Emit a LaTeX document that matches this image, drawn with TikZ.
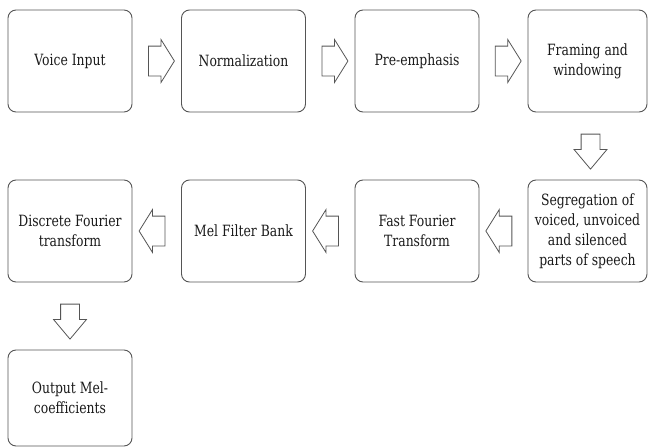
\documentclass[tikz,border=0pt]{standalone}
\usepackage{fontspec}
\setmainfont{DejaVu Serif}[FakeStretch=0.8]
\usetikzlibrary{shapes.arrows,calc}
\definecolor{edge}{HTML}{555555}
\definecolor{ink}{HTML}{1a1a1a}
\begin{document}
\begin{tikzpicture}[x=1pt,y=-1pt,
  box/.style={draw=edge, line width=0.9pt, rounded corners=8pt, fill=white,
    minimum width=124pt, minimum height=102pt, align=center, inner sep=2pt,
    text=ink, font=\fontsize{15.5}{20}\selectfont},
  harrow/.style={single arrow, draw=edge, line width=0.8pt, fill=white,
    minimum height=26pt, single arrow head extend=6.5pt, single arrow tip angle=116,
    inner xsep=0pt, inner ysep=14.5pt},
  varrow/.style={single arrow, draw=edge, line width=0.8pt, fill=white,
    minimum height=35pt, single arrow head extend=7pt, single arrow tip angle=80,
    inner xsep=9pt, inner ysep=0pt, shape border rotate=270}
]
\useasboundingbox (0,0) rectangle (648,447);
% row 1
\node[box] (b1) at (70,61) {Voice Input};
\node[box] (b2) at (243.5,61) {Normalization};
\node[box] (b3) at (417,61) {Pre-emphasis};
\node[box, minimum width=119pt] (b4) at (587.5,61) {Framing and\\windowing};
% row 2
\node[box, minimum width=119pt] (b5) at (587.5,231) {Segregation of\\voiced, unvoiced\\and silenced\\parts of speech};
\node[box] (b6) at (417,231) {Fast Fourier\\Transform};
\node[box] (b7) at (243.5,231) {Mel Filter Bank};
\node[box] (b8) at (70,231) {Discrete Fourier\\transform};
% row 3
\node[box, minimum height=96pt] (b9) at (70,398) {Output Mel-\\coefficients};
% arrows
\node[harrow] (a1) at ($(b1.east)!0.5!(b2.west)$) {};
\node[harrow] (a2) at ($(b2.east)!0.5!(b3.west)$) {};
\node[harrow] (a3) at ($(b3.east)!0.5!(b4.west)$) {};
\node[varrow] (a4) at ($(b4.south)!0.5!(b5.north)+(3,0)$) {};
\node[harrow, shape border rotate=180] (a5) at ($(b5.west)!0.5!(b6.east)$) {};
\node[harrow, shape border rotate=180] (a6) at ($(b6.west)!0.5!(b7.east)$) {};
\node[harrow, shape border rotate=180] (a7) at ($(b7.west)!0.5!(b8.east)$) {};
\node[varrow] (a8) at ($(b8.south)!0.5!(b9.north)$) {};
\end{tikzpicture}
\end{document}
